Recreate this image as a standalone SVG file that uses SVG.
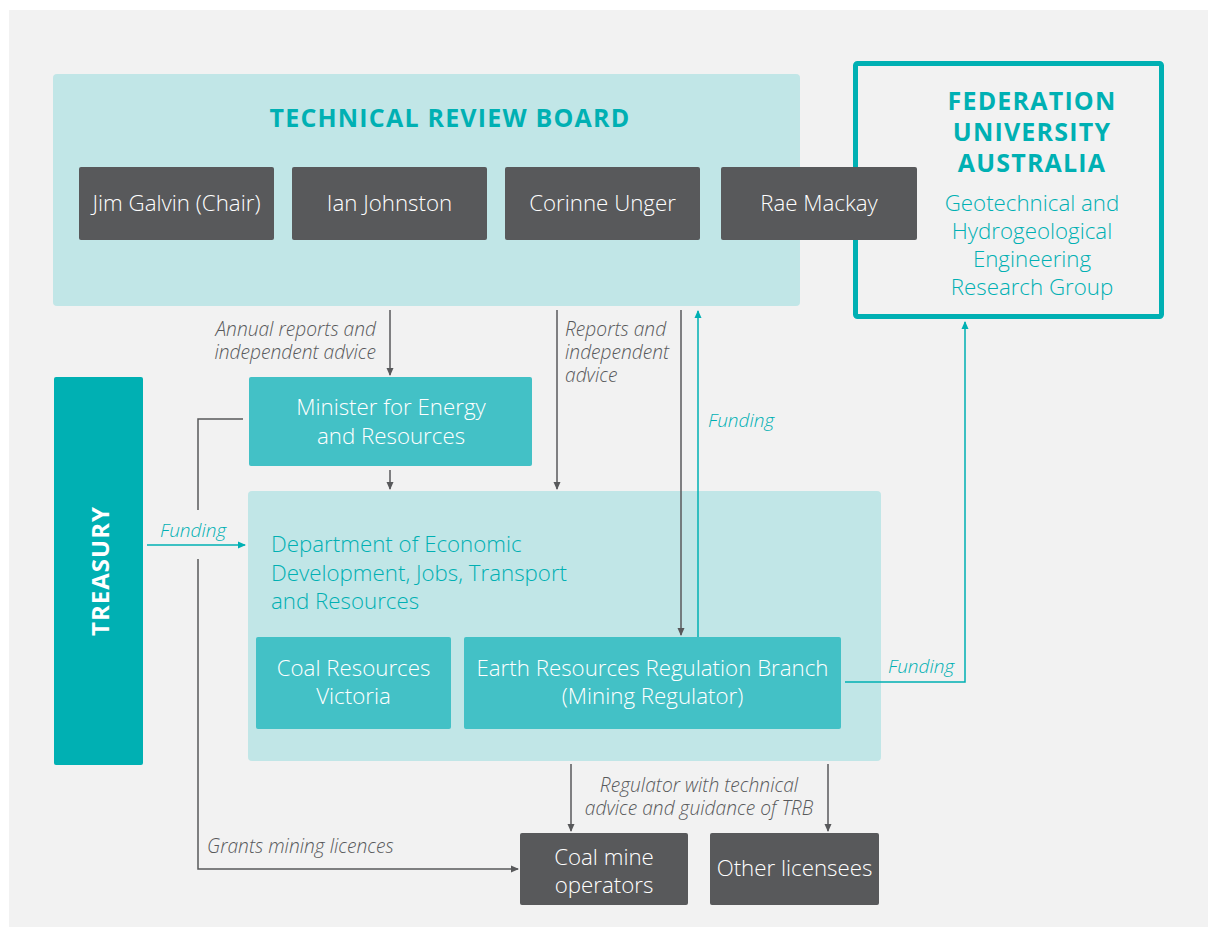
<svg xmlns="http://www.w3.org/2000/svg" width="1217" height="937" viewBox="0 0 1217 937">
  <style>
    text { font-family: "Open Sans", "Noto Sans", "Liberation Sans", sans-serif; }
    .panel { fill: #c1e6e7; }
    .dark { fill: #58595b; }
    .mid { fill: #43c1c6; }
    .white { fill: #ffffff; font-size: 22.3px; font-weight: 300; text-anchor: middle; }
    .teal { fill: #00b0b3; font-size: 22.3px; font-weight: 300; }
    .head { fill: #00b0b3; font-size: 25px; font-weight: 700; letter-spacing: 1.2px; text-anchor: middle; }
    .note { fill: #58595b; font-size: 19.2px; font-style: italic; font-weight: 300; }
    .fund { fill: #00b0b3; font-size: 19px; font-style: italic; font-weight: 300; }
    .line { fill: none; stroke: #58595b; stroke-width: 1.5; }
    .tline { fill: none; stroke: #00b0b3; stroke-width: 1.5; }
  </style>
  <defs>
    <marker id="ah" markerWidth="8" markerHeight="8" refX="7" refY="4" orient="auto" markerUnits="userSpaceOnUse">
      <path d="M0,0.5 L8,4 L0,7.5 Z" fill="#58595b"/>
    </marker>
    <marker id="ahT" markerWidth="8" markerHeight="8" refX="7" refY="4" orient="auto" markerUnits="userSpaceOnUse">
      <path d="M0,0.5 L8,4 L0,7.5 Z" fill="#00b0b3"/>
    </marker>
  </defs>

  <rect x="0" y="0" width="1217" height="937" fill="#ffffff"/>
  <rect x="9" y="10" width="1199" height="917" fill="#f2f2f2"/>

  <!-- Technical Review Board panel -->
  <g id="trb">
    <rect class="panel" x="53" y="74" width="747" height="232" rx="4"/>
    <text class="head" x="450" y="127">TECHNICAL REVIEW BOARD</text>
  </g>

  <!-- Federation University Australia -->
  <g id="fedUni">
    <rect x="855.5" y="63.5" width="306" height="253" rx="2" fill="none" stroke="#00b0b3" stroke-width="5"/>
    <text class="head" x="1032" y="110"><tspan x="1032">FEDERATION</tspan><tspan x="1032" dy="31">UNIVERSITY</tspan><tspan x="1032" dy="31">AUSTRALIA</tspan></text>
    <text class="teal" text-anchor="middle" x="1032" y="211"><tspan x="1032">Geotechnical and</tspan><tspan x="1032" dy="28">Hydrogeological</tspan><tspan x="1032" dy="28">Engineering</tspan><tspan x="1032" dy="28">Research Group</tspan></text>
  </g>

  <!-- Board members -->
  <g id="galvin">
    <rect class="dark" x="79" y="167" width="195" height="73" rx="2"/>
    <text class="white" x="176.5" y="211">Jim Galvin (Chair)</text>
  </g>
  <g id="johnston">
    <rect class="dark" x="292" y="167" width="195" height="73" rx="2"/>
    <text class="white" x="389.5" y="211">Ian Johnston</text>
  </g>
  <g id="unger">
    <rect class="dark" x="505" y="167" width="195" height="73" rx="2"/>
    <text class="white" x="602.5" y="211">Corinne Unger</text>
  </g>
  <g id="mackay">
    <rect class="dark" x="721" y="167" width="196" height="73" rx="2"/>
    <text class="white" x="819" y="211">Rae Mackay</text>
  </g>

  <!-- Treasury -->
  <g id="treasury">
    <rect x="54" y="377" width="89" height="388" rx="2" fill="#00b0b3"/>
    <text x="99" y="571" transform="rotate(-90 99 571)" text-anchor="middle" dominant-baseline="central" fill="#ffffff" font-size="24" font-weight="700" letter-spacing="1">TREASURY</text>
  </g>

  <!-- Minister -->
  <g id="minister">
    <rect class="mid" x="249" y="377" width="283" height="89" rx="2"/>
    <text class="white" x="391" y="415"><tspan x="391">Minister for Energy</tspan><tspan x="391" dy="29">and Resources</tspan></text>
  </g>

  <!-- Department -->
  <g id="department">
    <rect class="panel" x="248" y="491" width="633" height="270" rx="4"/>
    <text class="teal" x="271" y="552"><tspan x="271">Department of Economic</tspan><tspan x="271" dy="29">Development, Jobs, Transport</tspan><tspan x="271" dy="28">and Resources</tspan></text>
  </g>
  <g id="coalResources">
    <rect class="mid" x="256" y="637" width="195" height="92" rx="2"/>
    <text class="white" x="353.5" y="676"><tspan x="353.5">Coal Resources</tspan><tspan x="353.5" dy="28">Victoria</tspan></text>
  </g>
  <g id="earthResources">
    <rect class="mid" x="464" y="637" width="377" height="92" rx="2"/>
    <text class="white" x="652.5" y="676"><tspan x="652.5">Earth Resources Regulation Branch</tspan><tspan x="652.5" dy="28">(Mining Regulator)</tspan></text>
  </g>

  <!-- Licensees -->
  <g id="coalMine">
    <rect class="dark" x="520" y="833" width="168" height="72" rx="2"/>
    <text class="white" x="604" y="865"><tspan x="604">Coal mine</tspan><tspan x="604" dy="28">operators</tspan></text>
  </g>
  <g id="otherLicensees">
    <rect class="dark" x="710" y="833" width="169" height="72" rx="2"/>
    <text class="white" x="794.5" y="876">Other licensees</text>
  </g>

  <!-- Connectors -->
  <g id="connectors">
    <line class="line" x1="390" y1="310" x2="390" y2="375" marker-end="url(#ah)"/>
    <line class="line" x1="390" y1="470" x2="390" y2="489" marker-end="url(#ah)"/>
    <line class="line" x1="557" y1="310" x2="557" y2="489" marker-end="url(#ah)"/>
    <line class="line" x1="681" y1="310" x2="681" y2="635" marker-end="url(#ah)"/>
    <line class="tline" x1="698" y1="637" x2="698" y2="311" marker-end="url(#ahT)"/>
    <line class="tline" x1="147" y1="545" x2="245" y2="545" marker-end="url(#ahT)"/>
    <polyline class="line" points="243,419 198,419 198,510"/>
    <polyline class="line" points="198,559 198,869 518,869" marker-end="url(#ah)"/>
    <polyline class="tline" points="845,682 965,682 965,322" marker-end="url(#ahT)"/>
    <line class="line" x1="571" y1="764" x2="571" y2="831" marker-end="url(#ah)"/>
    <line class="line" x1="828" y1="764" x2="828" y2="831" marker-end="url(#ah)"/>

    <text class="note" x="376" y="336" text-anchor="end"><tspan x="376">Annual reports and</tspan><tspan x="376" dy="23">independent advice</tspan></text>
    <text class="note" x="565" y="336"><tspan x="565">Reports and</tspan><tspan x="565" dy="23">independent</tspan><tspan x="565" dy="23">advice</tspan></text>
    <text class="fund" x="708" y="427">Funding</text>
    <text class="fund" x="160" y="537">Funding</text>
    <text class="fund" x="888" y="673">Funding</text>
    <text class="note" x="699" y="792" text-anchor="middle"><tspan x="699">Regulator with technical</tspan><tspan x="699" dy="23">advice and guidance of TRB</tspan></text>
    <text class="note" x="207" y="853">Grants mining licences</text>
  </g>
</svg>
